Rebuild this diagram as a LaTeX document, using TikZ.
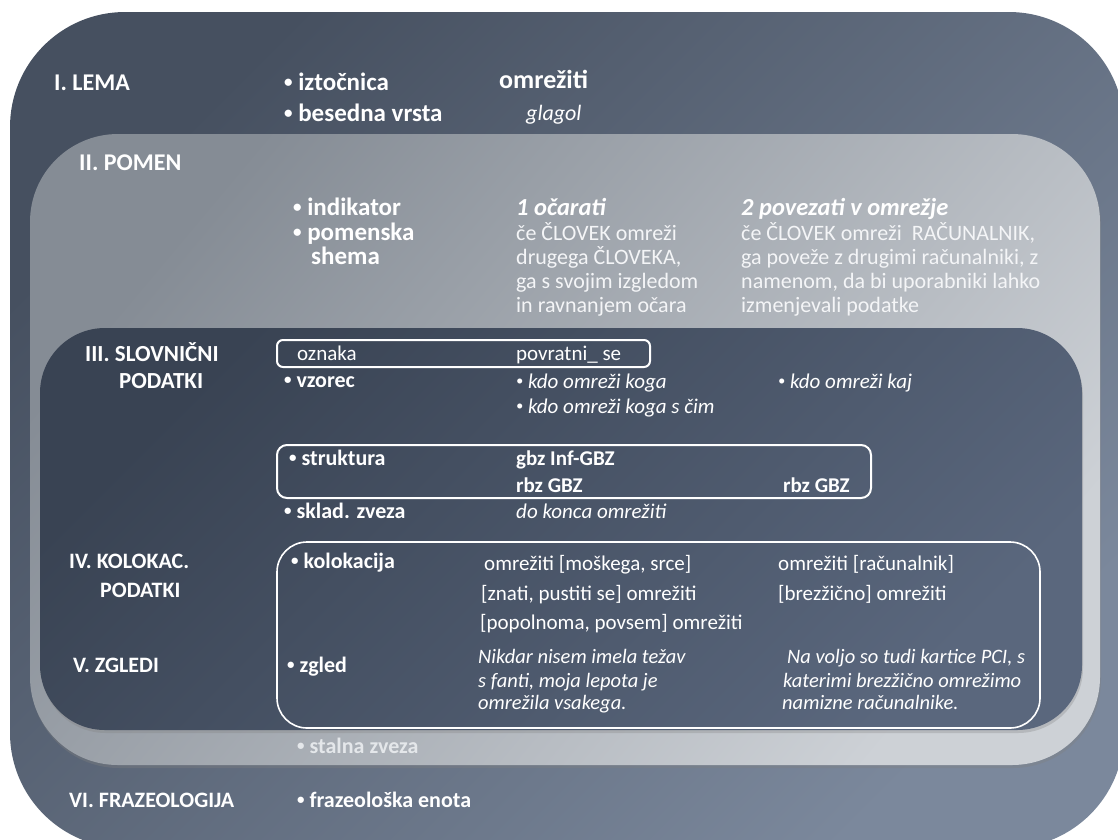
\documentclass[tikz,border=0pt]{standalone}
\usepackage{fontspec}
\setmainfont{Carlito}
\usepackage{tikz}
\usetikzlibrary{shadows}

\definecolor{outerA}{HTML}{465060}
\definecolor{outerB}{HTML}{7B889C}
\definecolor{pomenA}{HTML}{858C95}
\definecolor{pomenB}{HTML}{CDD1D6}
\definecolor{slovA}{HTML}{394353}
\definecolor{slovB}{HTML}{5A677D}
\definecolor{softwhite}{HTML}{F4F5F7}
\definecolor{fadewhite}{HTML}{E4E7EA}

\newcommand{\bulletmark}{\raisebox{.12em}{\scalebox{.68}{•}}}

\begin{document}
\begin{tikzpicture}[x=1pt, y=-1pt,
	txt/.style={anchor=base west, inner sep=0pt, text=white},
	hd/.style={txt, font=\bfseries\fontsize{24}{28}\selectfont},
	hds/.style={txt, font=\bfseries\fontsize{22}{26}\selectfont},
	lab/.style={txt, font=\bfseries\fontsize{25}{29}\selectfont},
	labs/.style={txt, font=\bfseries\fontsize{22}{26}\selectfont},
	body/.style={txt, font=\fontsize{21}{25}\selectfont},
	pbody/.style={txt, text=softwhite, font=\fontsize{22}{26}\selectfont},
	bodyb/.style={txt, font=\bfseries\fontsize{21}{25}\selectfont},
	ital/.style={txt, font=\itshape\fontsize{21}{25}\selectfont},
	exital/.style={txt, font=\itshape\fontsize{20.5}{24}\selectfont},
	sense/.style={txt, font=\bfseries\itshape\fontsize{24.5}{28}\selectfont},
	frame/.style={draw=white, line width=2pt}]
				\useasboundingbox (0,0) rectangle (1118,839);
				\fill[white] (0,0) rectangle (1118,839);
				\clip (0,0) rectangle (1118,839);
				
				\path[top color=outerA, bottom color=outerB, shading angle=45, rounded corners=115pt] (10,12) rectangle (1124,848);
				\path[top color=pomenA, bottom color=pomenB, shading angle=50, rounded corners=88pt, drop shadow={shadow xshift=1pt, shadow yshift=-3pt, opacity=.35}] (30,134) rectangle (1100,765);
				\path[top color=slovA, bottom color=slovB, shading angle=45, rounded corners=65pt, drop shadow={shadow xshift=1pt, shadow yshift=-3pt, opacity=.3}] (40,328) rectangle (1082,730);
				
				\draw[frame, rounded corners=6pt] (277,340) rectangle (650,367);
				\draw[frame, rounded corners=10pt] (277,445) rectangle (871,498);
				\draw[frame, line width=1.6pt, rounded corners=30pt] (277,542) rectangle (1040,728);
				
				\node[hd] (LEM) at (54,90) {I. LEMA};
				\node[lab] (IZT) at (284,90) {\bulletmark\ iztočnica};
				\node[txt, font=\bfseries\fontsize{26}{31}\selectfont] (OMR) at (499,88) {omrežiti};
				\node[lab] (BVR) at (284,121) {\bulletmark\ besedna vrsta};
				\node[txt, font=\itshape\fontsize{22}{26}\selectfont] (GLA) at (526,120) {glagol};
				
				\node[hd] (POM) at (79,170) {II. POMEN};
				\node[lab] (IND) at (293,215) {\bulletmark\ indikator};
				\node[lab] (PS1) at (293,240) {\bulletmark\ pomenska};
				\node[lab] (PS2) at (311,264) {shema};
				\node[sense] (S1) at (516,215) {1 očarati};
				\node[pbody] (S1a) at (516,240) {če ČLOVEK omreži};
				\node[pbody] (S1b) at (516,264) {drugega ČLOVEKA,};
				\node[pbody] (S1c) at (516,288) {ga s svojim izgledom};
				\node[pbody] (S1d) at (516,312) {in ravnanjem očara};
				\node[sense] (S2) at (741,215) {2 povezati v omrežje};
				\node[pbody] (S2a) at (741,240) {če ČLOVEK omreži\ \ RAČUNALNIK,};
				\node[pbody] (S2b) at (741,264) {ga poveže z drugimi računalniki, z};
				\node[pbody] (S2c) at (741,288) {namenom, da bi uporabniki lahko};
				\node[pbody] (S2d) at (741,312) {izmenjevali podatke};
				
				\node[hd, font=\bfseries\fontsize{23}{27}\selectfont] (SLO1) at (85,361) {III. SLOVNIČNI};
				\node[hd, font=\bfseries\fontsize{23}{27}\selectfont] (SLO2) at (119,388) {PODATKI};
				\node[body] (OZN) at (297,360) {oznaka};
				\node[body] (POV) at (516,360) {povratni\_ se};
				\node[labs] (VZO) at (284,387) {\bulletmark\ vzorec};
				\node[ital] (VZ1) at (516,388) {\bulletmark\ kdo omreži koga};
				\node[ital] (VZ2) at (778,388) {\bulletmark\ kdo omreži kaj};
				\node[ital] (VZ3) at (516,413) {\bulletmark\ kdo omreži koga s čim};
				\node[labs] (STR) at (289,465) {\bulletmark\ struktura};
				\node[bodyb] (GBZ) at (516,465) {gbz Inf-GBZ};
				\node[bodyb] (RBZ1) at (516,492) {rbz GBZ};
				\node[bodyb] (RBZ2) at (783,492) {rbz GBZ};
				\node[labs] (SKL) at (284,518) {\bulletmark\ sklad. zveza};
				\node[ital] (DKO) at (516,518) {do konca omrežiti};
				
				\node[hds] (KOL1) at (69,568) {IV. KOLOKAC.};
				\node[hds] (KOL2) at (100,597) {PODATKI};
				\node[labs] (KOL) at (291,568) {\bulletmark\ kolokacija};
				\node[body] (K1a) at (484,570) {omrežiti [moškega, srce]};
				\node[body] (K1b) at (481,600) {[znati, pustiti se] omrežiti};
				\node[body] (K1c) at (480,629) {[popolnoma, povsem] omrežiti};
				\node[body] (K2a) at (778,570) {omrežiti [računalnik]};
				\node[body] (K2b) at (778,600) {[brezžično] omrežiti};
				
				\node[hds] (ZGL) at (73,672) {V. ZGLEDI};
				\node[labs] (ZG) at (287,672) {\bulletmark\ zgled};
				\node[exital] (Z1a) at (478,663) {Nikdar nisem imela težav};
				\node[exital] (Z1b) at (478,687) {s fanti, moja lepota je};
				\node[exital] (Z1c) at (478,709) {omrežila vsakega.};
				\node[exital] (Z2a) at (787,663) {Na voljo so tudi kartice PCI, s};
				\node[exital] (Z2b) at (783,687) {katerimi brezžično omrežimo};
				\node[exital] (Z2c) at (782,709) {namizne računalnike.};
				
				\node[labs, text=fadewhite] (STA) at (297,753) {\bulletmark\ stalna zveza};
				
				\node[hds] (FRA) at (69,807) {VI. FRAZEOLOGIJA};
				\node[labs] (FRE) at (297,807) {\bulletmark\ frazeološka enota};
			\end{tikzpicture}
\end{document}
